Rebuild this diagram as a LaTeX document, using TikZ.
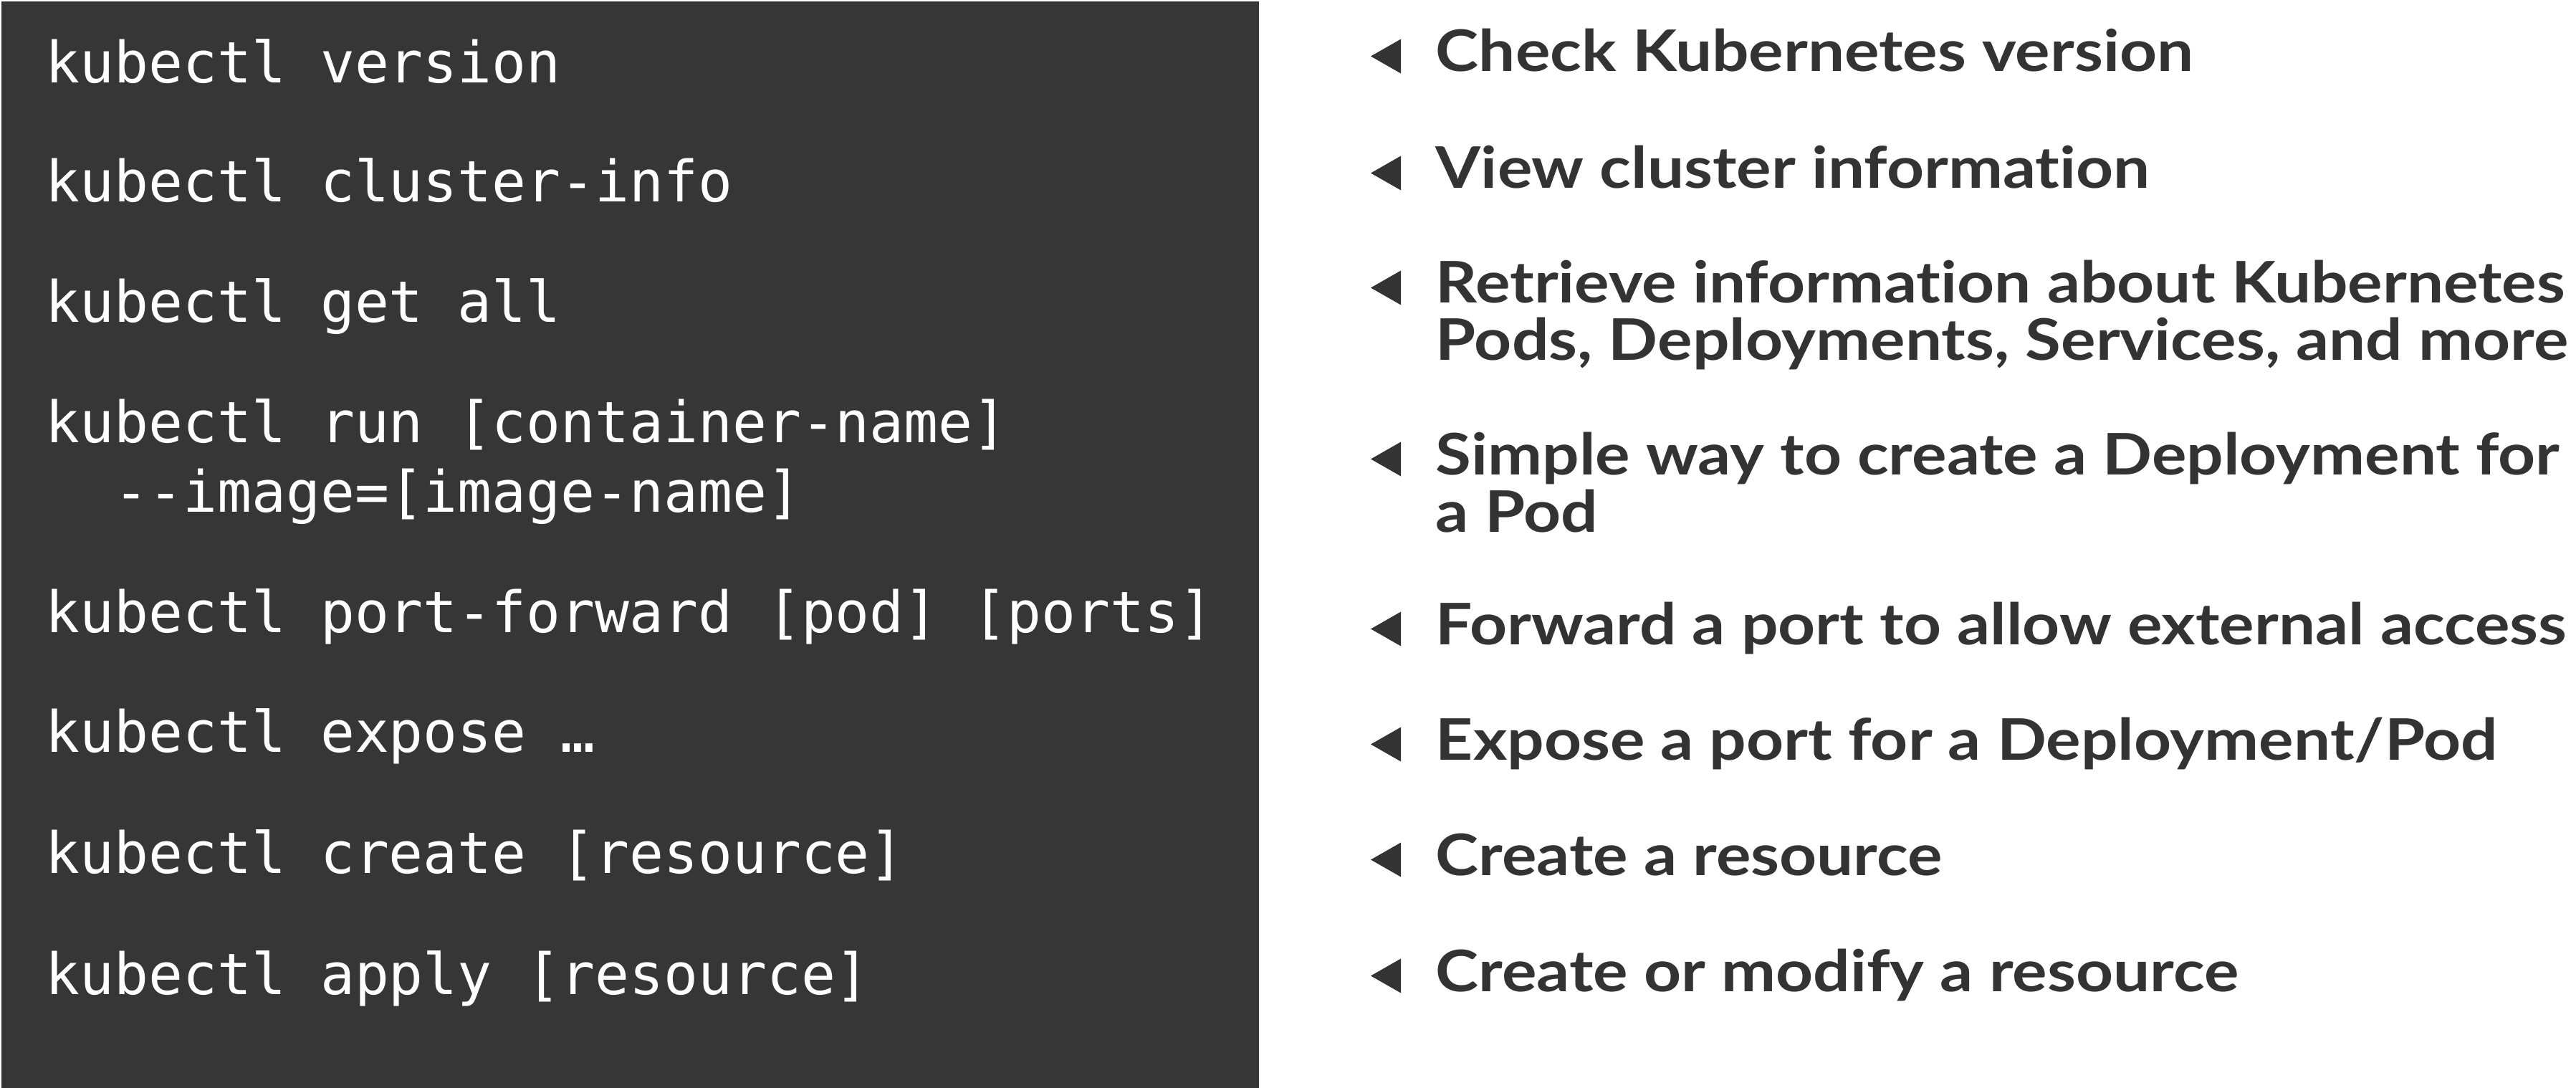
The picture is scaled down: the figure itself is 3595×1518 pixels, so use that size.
\documentclass[tikz,border=0pt]{standalone}
\usepackage{fontspec}
\setmonofont{DejaVu Sans Mono}
\newfontfamily\descfont[Ligatures=NoCommon,FakeStretch=1.135]{Lato}
\definecolor{panel}{HTML}{363636}
\definecolor{ink}{HTML}{333333}
\begin{document}
\begin{tikzpicture}[x=0.25pt,y=-0.25pt,
  cmd/.style={anchor=base west, inner sep=0pt, text=white,
    font=\ttfamily\fontsize{19.9}{24.25}\selectfont},
  desc/.style={anchor=base west, inner sep=0pt, text=ink,
    font=\descfont\bfseries\fontsize{20}{20}\selectfont},
  tri/.style={fill=ink}]
\useasboundingbox (0,0) rectangle (3595,1518);
\fill[panel] (2,2) rectangle (1757,1518);

\node[cmd] (c1) at (63,116) {kubectl version};
\node[cmd] (c2) at (63,282) {kubectl cluster-info};
\node[cmd] (c3) at (63,450) {kubectl get all};
\node[cmd] (c4) at (63,617) {\vtop{\hbox{kubectl run [container-name]}\hbox{\ \ -{}-image=[image-name]}}};
\node[cmd] (c5) at (63,882) {kubectl port-forward [pod] [ports]};
\node[cmd] (c6) at (63,1049) {kubectl expose …};
\node[cmd] (c7) at (63,1218) {kubectl create [resource]};
\node[cmd] (c8) at (63,1387) {kubectl apply [resource]};

\node[desc] (d1) at (2003,100) {Check Kubernetes version};
\node[desc] (d2) at (2003,263) {View cluster information};
\node[desc] (d3) at (2003,423) {\vtop{\hbox{Retrieve information about Kubernetes}\hbox{Pods, Deployments, Services, and more}}};
\node[desc] (d4) at (2003,662) {\vtop{\hbox{Simple way to create a Deployment for}\hbox{a Pod}}};
\node[desc] (d5) at (2003,899) {Forward a port to allow external access};
\node[desc] (d6) at (2003,1060) {Expose a port for a Deployment/Pod};
\node[desc] (d7) at (2003,1221) {Create a resource};
\node[desc] (d8) at (2003,1383) {Create or modify a resource};

\foreach \b in {100,263,423,662,899,1060,1221,1383}
  \fill[tri] (1913,\b-21.5) -- (1955,\b-45.5) -- (1955,\b+2.5) -- cycle;
\end{tikzpicture}
\end{document}
